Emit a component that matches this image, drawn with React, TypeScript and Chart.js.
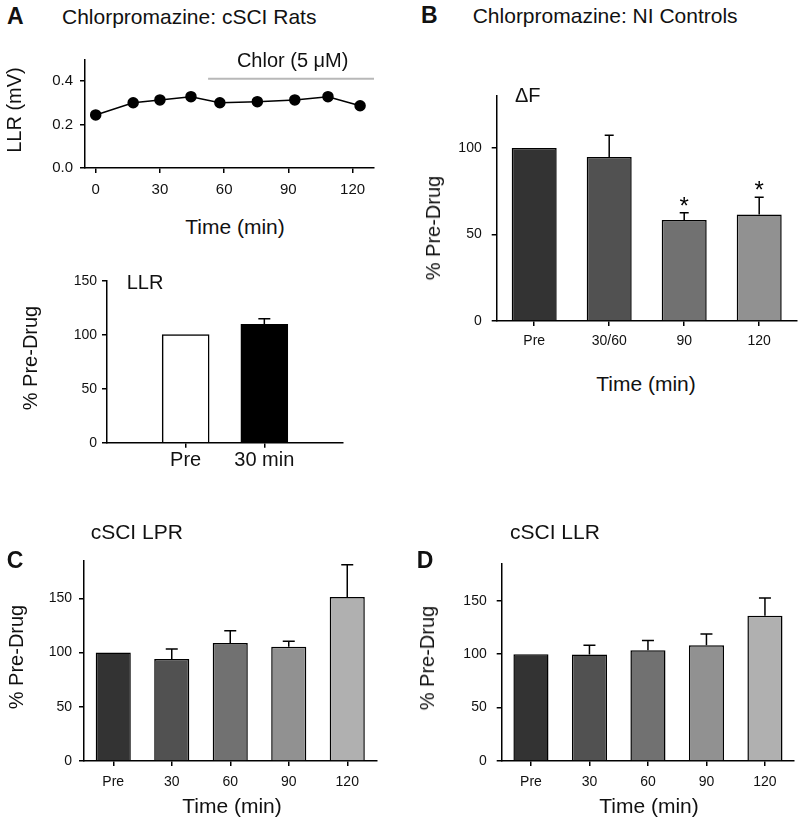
import React, { useEffect, useRef } from 'react';
import { Chart, registerables } from 'chart.js';

Chart.register(...registerables);

const FONT = "'Liberation Sans', Arial, Helvetica, sans-serif";
const INK = '#111111';

// ---------- Panel A (top): LLR over time ----------
const timeA = [0, 17.5, 30, 44.5, 58, 75.5, 93, 108.5, 123.5];
const llrA = [0.244, 0.3, 0.313, 0.328, 0.3, 0.305, 0.313, 0.328, 0.286];
const timeTicksA = [0, 30, 60, 90, 120];
const llrTicksA = [0, 0.2, 0.4];
const chlorStart = 52.5;
const chlorLevel = 0.41;
const chlorLabel = 'Chlor (5 \u03BCM)';

// ---------- Panel A (bottom): LLR % Pre-Drug ----------
const catsA2 = ['Pre', '30 min'];
const valsA2 = [100, 109.6];
const errA2: (number | null)[] = [null, 114.8];
const colorsA2 = ['#ffffff', '#000000'];
const pctTicks150 = [0, 50, 100, 150];

// ---------- Panel B: ΔF NI controls ----------
const catsB = ['Pre', '30/60', '90', '120'];
const valsB = [100, 94.8, 58.3, 61.5];
const errB: (number | null)[] = [null, 107.3, 62.5, 71.5];
const sigB = [false, false, true, true];
const colorsB = ['#333333', '#515151', '#717171', '#919191'];
const pctTicksB = [0, 50, 100];

// ---------- Panels C & D ----------
const catsCD = ['Pre', '30', '60', '90', '120'];
const valsC = [100, 94.1, 108.9, 105.3, 151.3];
const errC: (number | null)[] = [null, 103.2, 120.1, 110.4, 180.9];
const valsD = [100, 99.8, 103.7, 108.3, 136.1];
const errD: (number | null)[] = [null, 108.3, 112.8, 118.9, 152.7];
const colorsCD = ['#333333', '#515151', '#717171', '#919191', '#b0b0b0'];

type Box = { left: number; top: number; width: number; height: number };
type Area = { left: number; right: number; top: number; bottom: number };

function gridOpts() {
  return {
    display: true,
    drawOnChartArea: false,
    drawTicks: true,
    tickLength: 5,
    color: '#000',
    lineWidth: 1.5,
    offset: false,
  };
}
const borderOpts = { display: true, color: '#000', width: 1.5 };

function yAxis(min: number, max: number, values: number[], w: number, size: number, pad: number, fmt?: (v: number) => string) {
  const ticks: any = { color: INK, font: { size, family: FONT }, padding: pad };
  if (fmt) ticks.callback = (v: any) => fmt(Number(v));
  return {
    type: 'linear',
    min,
    max,
    afterBuildTicks: (s: any) => {
      s.ticks = values.map((v) => ({ value: v }));
    },
    afterFit: (s: any) => {
      s.width = w;
    },
    grid: gridOpts(),
    border: borderOpts,
    ticks,
  };
}

function errorBars(errors: (number | null)[], cap: number, sig?: boolean[]) {
  return {
    id: 'errbars',
    afterDatasetsDraw(chart: any) {
      const meta = chart.getDatasetMeta(0);
      const ys = chart.scales.y;
      const ctx = chart.ctx;
      ctx.save();
      ctx.strokeStyle = '#000';
      ctx.lineWidth = 1.5;
      meta.data.forEach((bar: any, i: number) => {
        const e = errors[i];
        if (e == null) return;
        const x = bar.x;
        const y0 = bar.y;
        const y1 = ys.getPixelForValue(e);
        ctx.beginPath();
        ctx.moveTo(x, y0);
        ctx.lineTo(x, y1);
        ctx.moveTo(x - cap, y1);
        ctx.lineTo(x + cap, y1);
        ctx.stroke();
        if (sig && sig[i]) {
          ctx.fillStyle = '#000';
          ctx.font = `24px ${FONT}`;
          ctx.textAlign = 'center';
          ctx.textBaseline = 'alphabetic';
          ctx.fillText('*', x, y1 + 1);
        }
      });
      ctx.restore();
    },
  };
}

const chlorPlugin = {
  id: 'chlor',
  afterDatasetsDraw(chart: any) {
    const { x, y } = chart.scales;
    const ctx = chart.ctx;
    ctx.save();
    ctx.strokeStyle = '#b8b8b8';
    ctx.lineWidth = 2;
    const py = y.getPixelForValue(chlorLevel);
    const x0 = x.getPixelForValue(chlorStart);
    const x1 = x.getPixelForValue(x.max);
    ctx.beginPath();
    ctx.moveTo(x0, py);
    ctx.lineTo(x1, py);
    ctx.stroke();
    ctx.fillStyle = INK;
    ctx.font = `20px ${FONT}`;
    ctx.textAlign = 'center';
    ctx.textBaseline = 'middle';
    ctx.fillText(chlorLabel, x.getPixelForValue(92), py - 17);
    ctx.restore();
  },
};

function baseOptions() {
  return {
    animation: false,
    responsive: false,
    maintainAspectRatio: false,
    devicePixelRatio: 1,
    plugins: { legend: { display: false }, tooltip: { enabled: false }, title: { display: false } },
  } as any;
}

function ChartBox({ box, area, build }: { box: Box; area: Area; build: (yw: number, xh: number) => any }) {
  const ref = useRef<HTMLCanvasElement>(null);
  useEffect(() => {
    const cfg = build(area.left - box.left, box.top + box.height - area.bottom);
    cfg.options.layout = {
      padding: { left: 0, top: area.top - box.top, right: box.left + box.width - area.right, bottom: 0 },
    };
    const chart = new Chart(ref.current as HTMLCanvasElement, cfg);
    return () => chart.destroy();
  }, []);
  return (
    <canvas
      ref={ref}
      width={box.width}
      height={box.height}
      style={{ position: 'absolute', left: box.left, top: box.top, width: box.width, height: box.height }}
    />
  );
}

function xCategory(labels: string[], h: number, size: number, pad: number) {
  return {
    type: 'category',
    labels,
    offset: true,
    afterFit: (s: any) => {
      s.height = h;
    },
    grid: gridOpts(),
    border: borderOpts,
    ticks: { color: INK, font: { size, family: FONT }, padding: pad, maxRotation: 0, autoSkip: false },
  };
}

function barConfig(
  labels: string[],
  vals: number[],
  colors: string[],
  errors: (number | null)[],
  cap: number,
  yMax: number,
  yTicks: number[],
  yPad: number,
  xPad: number,
  sig?: boolean[]
) {
  return (yw: number, xh: number) => {
    const options = baseOptions();
    options.scales = {
      x: xCategory(labels, xh, 14, xPad),
      y: yAxis(0, yMax, yTicks, yw, 14, yPad),
    };
    return {
      type: 'bar',
      data: {
        labels,
        datasets: [
          {
            data: vals,
            backgroundColor: colors,
            borderColor: '#000',
            borderWidth: 1.5,
            borderSkipped: 'bottom',
            barPercentage: 0.6,
            categoryPercentage: 1,
          },
        ],
      },
      options,
      plugins: [errorBars(errors, cap, sig)],
    };
  };
}

function buildLineA(yw: number, xh: number) {
  const options = baseOptions();
  options.scales = {
    x: {
      type: 'linear',
      min: -5,
      max: 130,
      afterBuildTicks: (s: any) => {
        s.ticks = timeTicksA.map((v) => ({ value: v }));
      },
      afterFit: (s: any) => {
        s.height = xh;
      },
      grid: gridOpts(),
      border: borderOpts,
      ticks: { color: INK, font: { size: 15, family: FONT }, padding: 8, maxRotation: 0 },
    },
    y: yAxis(0, 0.5, llrTicksA, yw, 15, 7, (v) => v.toFixed(1)),
  };
  return {
    type: 'line',
    data: {
      datasets: [
        {
          data: timeA.map((t, i) => ({ x: t, y: llrA[i] })),
          borderColor: '#000',
          borderWidth: 1.5,
          pointRadius: 5,
          pointBackgroundColor: '#000',
          pointBorderColor: '#000',
          tension: 0,
          clip: false,
        },
      ],
    },
    options,
    plugins: [chlorPlugin],
  };
}

function buildBarA2(yw: number, xh: number) {
  // one empty slot on each side so the two bars sit inside a longer axis
  const labels = ['', ...catsA2, ''];
  const options = baseOptions();
  options.scales = {
    x: {
      type: 'category',
      labels,
      offset: false,
      afterBuildTicks: (s: any) => {
        s.ticks = catsA2.map((_, i) => ({ value: i + 1 }));
      },
      afterFit: (s: any) => {
        s.height = xh;
      },
      grid: gridOpts(),
      border: borderOpts,
      ticks: {
        color: INK,
        font: { size: 20, family: FONT },
        padding: 1,
        maxRotation: 0,
        autoSkip: false,
      },
    },
    y: yAxis(0, 150, pctTicks150, yw, 14, 5),
  };
  return {
    type: 'bar',
    data: {
      labels,
      datasets: [
        {
          data: [null, ...valsA2, null],
          backgroundColor: ['#fff', ...colorsA2, '#fff'],
          borderColor: '#000',
          borderWidth: 1.5,
          borderSkipped: 'bottom',
          barThickness: 47,
        },
      ],
    },
    options,
    plugins: [errorBars([null, ...errA2, null], 6)],
  };
}

function Txt({
  x,
  y,
  size,
  children,
  bold,
  rotate,
  center,
}: {
  x: number;
  y: number;
  size: number;
  children: React.ReactNode;
  bold?: boolean;
  rotate?: boolean;
  center?: boolean;
}) {
  const style: React.CSSProperties = {
    position: 'absolute',
    left: x,
    top: center || rotate ? y : y - size / 2,
    fontSize: size,
    lineHeight: `${size}px`,
    fontFamily: FONT,
    fontWeight: bold ? 700 : 400,
    color: INK,
    whiteSpace: 'nowrap',
    transform: rotate ? 'translate(-50%, -50%) rotate(-90deg)' : center ? 'translate(-50%, -50%)' : undefined,
  };
  return <div style={style}>{children}</div>;
}

export default function App() {
  return (
    <div
      style={{
        position: 'absolute',
        left: 0,
        top: 0,
        width: 798,
        height: 827,
        background: '#fff',
        overflow: 'hidden',
      }}
    >
      <ChartBox box={{ left: 0, top: 40, width: 390, height: 170 }} area={{ left: 85, right: 374, top: 59.25, bottom: 168 }} build={buildLineA} />
      <ChartBox box={{ left: 0, top: 250, width: 390, height: 240 }} area={{ left: 107, right: 343, top: 280.7, bottom: 442.7 }} build={buildBarA2} />
      <ChartBox
        box={{ left: 400, top: 40, width: 398, height: 320 }}
        area={{ left: 496.7, right: 796.7, top: 96, bottom: 321 }}
        build={barConfig(catsB, valsB, colorsB, errB, 4.5, 130, pctTicksB, 10, 7, sigB)}
      />
      <ChartBox
        box={{ left: 0, top: 545, width: 395, height: 260 }}
        area={{ left: 84, right: 376.5, top: 556.7, bottom: 761 }}
        build={barConfig(catsCD, valsC, colorsCD, errC, 6, 185, pctTicks150, 7, 8)}
      />
      <ChartBox
        box={{ left: 400, top: 545, width: 398, height: 260 }}
        area={{ left: 501.7, right: 794.2, top: 556.7, bottom: 761 }}
        build={barConfig(catsCD, valsD, colorsCD, errD, 6, 185, pctTicks150, 10, 8)}
      />

      <Txt x={7} y={16} size={23} bold>A</Txt>
      <Txt x={62} y={16} size={21}>Chlorpromazine: cSCI Rats</Txt>
      <Txt x={421} y={15.5} size={23} bold>B</Txt>
      <Txt x={472.7} y={15} size={21}>Chlorpromazine: NI Controls</Txt>
      <Txt x={6.7} y={560} size={23} bold>C</Txt>
      <Txt x={416.7} y={560} size={23} bold>D</Txt>
      <Txt x={90.7} y={531.7} size={21}>cSCI LPR</Txt>
      <Txt x={510} y={531.7} size={21}>cSCI LLR</Txt>

      <Txt x={14} y={110} size={20} rotate>LLR (mV)</Txt>
      <Txt x={235} y={226} size={21} center>Time (min)</Txt>
      <Txt x={30} y={357.5} size={20} rotate>% Pre-Drug</Txt>
      <Txt x={126.7} y={282} size={20}>LLR</Txt>
      <Txt x={433.3} y={228} size={20} rotate>% Pre-Drug</Txt>
      <Txt x={515} y={95} size={20}>{'\u0394F'}</Txt>
      <Txt x={646} y={383} size={21} center>Time (min)</Txt>
      <Txt x={16} y={657} size={20} rotate>% Pre-Drug</Txt>
      <Txt x={232} y={805} size={21} center>Time (min)</Txt>
      <Txt x={426.7} y={658} size={20} rotate>% Pre-Drug</Txt>
      <Txt x={649} y={805} size={21} center>Time (min)</Txt>
    </div>
  );
}
